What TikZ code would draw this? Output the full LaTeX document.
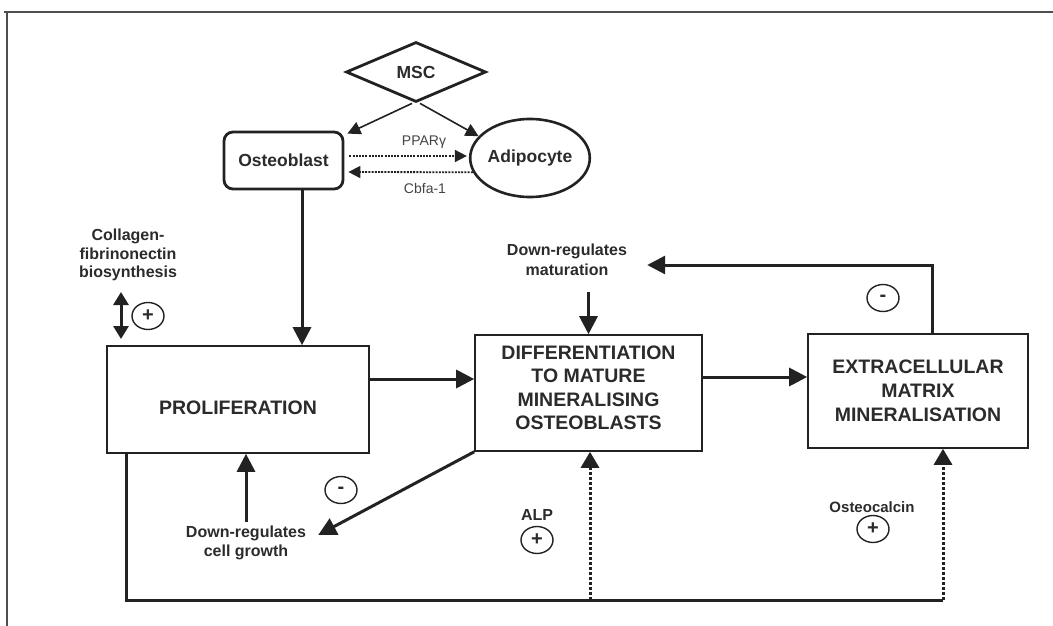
\documentclass[tikz,border=0pt]{standalone}
\usepackage{fontspec}
\setmainfont{Liberation Sans}
\usetikzlibrary{arrows.meta,shapes.geometric,calc}
\definecolor{ink}{HTML}{222222}
\definecolor{txt}{HTML}{2B2B2B}
\definecolor{lighttxt}{HTML}{444444}
\begin{document}
\begin{tikzpicture}[x=1pt,y=-1pt,
  box/.style={draw=ink, line width=1.6pt, fill=white, inner sep=0pt},
  boxtext/.style={font=\fontsize{19.5}{23.5}\selectfont\bfseries, text=txt, align=center},
  lab/.style={font=\fontsize{16}{19}\selectfont\bfseries, text=txt, align=center, inner sep=2pt},
  small/.style={font=\fontsize{14}{14}\selectfont, text=lighttxt, inner sep=1pt},
  arr/.style={draw=ink, line width=3pt, -{Triangle[length=18pt,width=18pt]}},
  dotarr/.style={draw=ink, line width=3pt, dash pattern=on 3pt off 2pt, -{Triangle[length=16pt,width=18pt]}},
  thinarr/.style={draw=ink, line width=1.6pt, -{Triangle[length=13pt,width=13pt]}},
  thindot/.style={draw=ink, line width=1.8pt, dash pattern=on 2pt off 1.2pt, -{Triangle[length=12pt,width=12pt]}},
  sign/.style={ellipse, draw=ink, line width=1.4pt, minimum width=32pt, minimum height=27pt, inner sep=0pt, font=\fontsize{20}{20}\selectfont\bfseries, text=txt},
  cell/.style={draw=ink, line width=2.8pt, font=\fontsize{17.5}{17.5}\selectfont\bfseries, text=txt, inner sep=0pt}
]
\useasboundingbox (0,0) rectangle (1053,626);
% frame
\draw[line width=1.5pt, draw=ink!80] (4,12) -- (1053,12);
\draw[line width=1.5pt, draw=ink!80] (7,12) -- (7,626);

% top part
\node[cell, shape=diamond, minimum width=140pt, minimum height=60pt] (msc) at (416,72) {MSC};
\node[cell, rounded corners=9pt, minimum width=119pt, minimum height=57pt] (osteo) at (283.5,160.5) {Osteoblast};
\node[cell, ellipse, line width=2.6pt, minimum width=115pt, minimum height=78pt] (adipo) at (530,158) {Adipocyte};
\node[small] (ppar) at (424,142) {PPARγ};
\node[small] (cbfa) at (425,188) {Cbfa-1};

\draw[thinarr] ([xshift=-4pt]msc.south) -- ([xshift=3pt,yshift=-3pt]osteo.north east);
\draw[thinarr] ([xshift=4pt]msc.south) -- (adipo.157);
\draw[thindot] ([xshift=5pt,yshift=4.5pt]osteo.east) -- ([xshift=-2pt,yshift=2pt]adipo.west);
\draw[thindot] (adipo.194) -- ([xshift=4pt,yshift=-11.5pt]osteo.east);

% collagen
\node[lab, font=\fontsize{16}{18.5}\selectfont\bfseries] (coll) at (128,255) {Collagen-\\fibrinonectin\\biosynthesis};
\node[sign] (pcoll) at (148,316) {+};
\coordinate (ct) at (121,292);
\coordinate (cb) at (121,339);
\draw[draw=ink, line width=3pt, {Triangle[length=13pt,width=15pt]}-{Triangle[length=13pt,width=15pt]}] (ct) -- (cb);

% main boxes
\node[box, minimum width=262pt, minimum height=107pt,
  label={[boxtext, yshift=-8pt]center:PROLIFERATION}] (prolif) at (238,399.5) {};
\node[box, minimum width=227pt, minimum height=116pt,
  label={[boxtext, yshift=5pt]center:DIFFERENTIATION\\TO MATURE\\MINERALISING\\OSTEOBLASTS}] (diff) at (588.5,393) {};
\node[box, minimum width=220pt, minimum height=114pt,
  label={[boxtext, font=\fontsize{19.5}{24}\selectfont\bfseries]center:EXTRACELLULAR\\MATRIX\\MINERALISATION}] (extra) at (918,391) {};

% labels
\node[lab, font=\fontsize{16}{20}\selectfont\bfseries] (dmat) at (567,260) {Down-regulates\\maturation};
\node[lab] (dcell) at (246,543) {Down-regulates\\cell growth};
\node[lab] (alp) at (537,515) {ALP};
\node[sign] (palp) at (537,540) {+};
\node[lab, font=\fontsize{15}{15}\selectfont\bfseries] (ocal) at (872,507) {Osteocalcin};
\node[sign] (pocal) at (873,529) {+};
\node[sign] (mext) at (883,298) {-};
\node[sign] (mdiff) at (341,490) {-};

% connectors
\coordinate (ov) at ($(osteo.south)+(18.5,0)$);
\draw[arr] (ov) -- (ov |- prolif.north);
\coordinate (pd) at ($(prolif.east)+(0,-20.5)$);
\draw[arr] (pd) -- (pd -| diff.west);
\coordinate (de) at ($(diff.east)+(0,-16)$);
\draw[arr] (de) -- (de -| extra.west);
\coordinate (et) at ($(extra.north)+(14,0)$);
\coordinate (mt) at ($(dmat.east)+(18,5)$);
\draw[arr] (et) |- (mt);
\draw[arr, shorten <=14pt] (dmat.south -| diff.north) -- (diff.north);
\draw[arr] (diff.south west) -- ($(dcell.east)+(10,-8)$);
\draw[arr, shorten <=2pt] (dcell.north) -- (dcell.north |- prolif.south);

\coordinate (br) at (943,600);
\coordinate (bm) at (590,600);
\draw[draw=ink, line width=3pt] ($(prolif.south west)+(20,0)$) |- (br);
\draw[dotarr] (br) -- (br |- extra.south);
\draw[dotarr] (bm) -- (bm |- diff.south);
\end{tikzpicture}
\end{document}
